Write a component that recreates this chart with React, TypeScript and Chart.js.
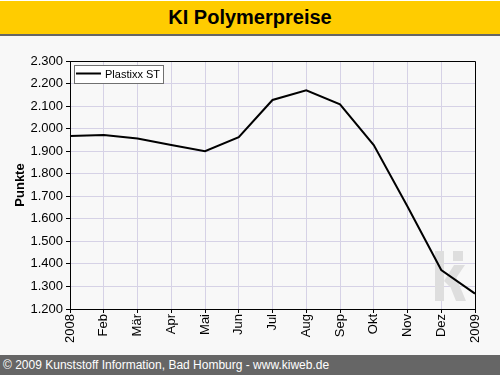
import React, { useEffect, useRef } from "react";
import { Chart, registerables } from "chart.js";

Chart.register(...registerables);

const categories = ["2008", "Feb", "Mär", "Apr", "Mai", "Jun", "Jul", "Aug", "Sep", "Okt", "Nov", "Dez", "2009"];
const plastixxST = [1967, 1972, 1956, 1927, 1900, 1962, 2127, 2170, 2108, 1927, 1655, 1373, 1268];
const seriesLabel = "Plastixx ST";
const yMin = 1200;
const yMax = 2300;
const yStep = 100;
const titleText = "KI Polymerpreise";
const yAxisTitle = "Punkte";
const footerText = "© 2009 Kunststoff Information, Bad Homburg - www.kiweb.de";

const FONT = "'Liberation Sans', Arial, sans-serif";

function formatDe(v: number): string {
  const s = Math.round(v).toString();
  if (s.length <= 3) return s;
  return s.slice(0, s.length - 3) + "." + s.slice(s.length - 3);
}

const decorPlugin = {
  id: "decor",
  beforeDatasetsDraw(chart: any) {
    const { ctx, chartArea } = chart;
    // watermark "ki"
    ctx.save();
    ctx.fillStyle = "#DEDEDE";
    const x0 = chartArea.right - 40;
    const yb = chartArea.bottom - 8;
    const h = 50;
    ctx.fillRect(x0, yb - h, 9, h);
    ctx.fillRect(x0 + 18, yb - h, 10, 10);
    ctx.beginPath();
    ctx.moveTo(x0 + 9, yb - 20);
    ctx.lineTo(x0 + 19, yb - 36);
    ctx.lineTo(x0 + 30, yb - 36);
    ctx.lineTo(x0 + 15, yb - 14);
    ctx.closePath();
    ctx.fill();
    ctx.beginPath();
    ctx.moveTo(x0 + 13, yb - 20);
    ctx.lineTo(x0 + 21, yb - 24);
    ctx.lineTo(x0 + 31, yb);
    ctx.lineTo(x0 + 21, yb);
    ctx.closePath();
    ctx.fill();
    ctx.restore();
  },
  afterDraw(chart: any) {
    const { ctx, chartArea } = chart;
    ctx.save();
    ctx.strokeStyle = "#000";
    ctx.lineWidth = 1;
    ctx.beginPath();
    ctx.moveTo(chartArea.left, chartArea.top + 0.5);
    ctx.lineTo(chartArea.right + 0.5, chartArea.top + 0.5);
    ctx.lineTo(chartArea.right + 0.5, chartArea.bottom);
    ctx.stroke();
    // legend box
    const lx = chartArea.left + 4;
    const ly = chartArea.top + 4;
    ctx.font = `11px ${FONT}`;
    const tw = ctx.measureText(seriesLabel).width;
    const bw = Math.round(31 + tw + 3);
    const bh = 18;
    ctx.fillStyle = "#FFFFFF";
    ctx.fillRect(lx, ly, bw, bh);
    ctx.strokeStyle = "#707070";
    ctx.strokeRect(lx + 0.5, ly + 0.5, bw, bh);
    ctx.strokeStyle = "#000";
    ctx.lineWidth = 2;
    ctx.beginPath();
    ctx.moveTo(lx + 2, ly + 8.5);
    ctx.lineTo(lx + 27, ly + 8.5);
    ctx.stroke();
    ctx.fillStyle = "#000";
    ctx.textBaseline = "middle";
    ctx.textAlign = "left";
    ctx.fillText(seriesLabel, lx + 31, ly + 9.5);
    ctx.restore();
  },
};

export default function App() {
  const canvasRef = useRef<HTMLCanvasElement | null>(null);

  useEffect(() => {
    document.body.style.margin = "0";
    const canvas = canvasRef.current;
    if (!canvas) return;
    const chart = new Chart(canvas, {
      type: "line",
      data: {
        labels: categories,
        datasets: [
          {
            label: seriesLabel,
            data: plastixxST,
            borderColor: "#000000",
            borderWidth: 2,
            pointRadius: 0,
            tension: 0,
            fill: false,
          },
        ],
      },
      options: {
        responsive: false,
        animation: false,
        devicePixelRatio: 1,
        layout: { padding: { top: 25, right: 25, left: 0, bottom: 0 } },
        plugins: {
          legend: { display: false },
          tooltip: { enabled: false },
          title: { display: false },
        },
        scales: {
          x: {
            type: "category",
            offset: false,
            afterFit(scale: any) {
              scale.height = 46;
            },
            grid: {
              color: "#D6D2E6",
              tickColor: "#000",
              tickLength: 4,
              drawTicks: true,
            },
            border: { color: "#000", width: 1 },
            ticks: {
              color: "#000",
              font: { family: FONT, size: 13 },
              minRotation: 90,
              maxRotation: 90,
              autoSkip: false,
              padding: 1,
            },
          },
          y: {
            min: yMin,
            max: yMax,
            afterFit(scale: any) {
              scale.width = 70;
            },
            grid: {
              color: "#D6D2E6",
              tickColor: "#000",
              tickLength: 4,
              drawTicks: true,
            },
            border: { color: "#000", width: 1 },
            ticks: {
              stepSize: yStep,
              color: "#000",
              font: { family: FONT, size: 13 },
              padding: 3,
              callback: (v: any) => formatDe(Number(v)),
            },
            title: {
              display: true,
              text: yAxisTitle,
              color: "#000",
              font: { family: FONT, size: 13, weight: "bold" },
              padding: { top: 13, bottom: 0 },
            },
          },
        },
      },
      plugins: [decorPlugin],
    } as any);
    return () => chart.destroy();
  }, []);

  return (
    <div style={{ position: "relative", width: 500, height: 375, background: "#F8F8F8", overflow: "hidden" }}>
      <div
        style={{
          position: "absolute",
          left: 0,
          top: 0,
          width: 500,
          height: 36,
          background: "#FFCC00",
          borderBottom: "2px solid #666666",
          borderTop: "1px solid #FFFFFF",
          boxSizing: "border-box",
          display: "flex",
          alignItems: "center",
          justifyContent: "center",
          font: `bold 20px ${FONT}`,
          color: "#000",
        }}
      >
        {titleText}
      </div>
      <canvas
        ref={canvasRef}
        width={500}
        height={319}
        style={{ position: "absolute", left: 0, top: 36, width: 500, height: 319 }}
      />
      <div
        style={{
          position: "absolute",
          left: 0,
          top: 355,
          width: 500,
          height: 20,
          background: "#666666",
          color: "#FFFFFF",
          font: `12px ${FONT}`,
          lineHeight: "20px",
          paddingLeft: 3,
          boxSizing: "border-box",
          whiteSpace: "nowrap",
        }}
      >
        {footerText}
      </div>
    </div>
  );
}
